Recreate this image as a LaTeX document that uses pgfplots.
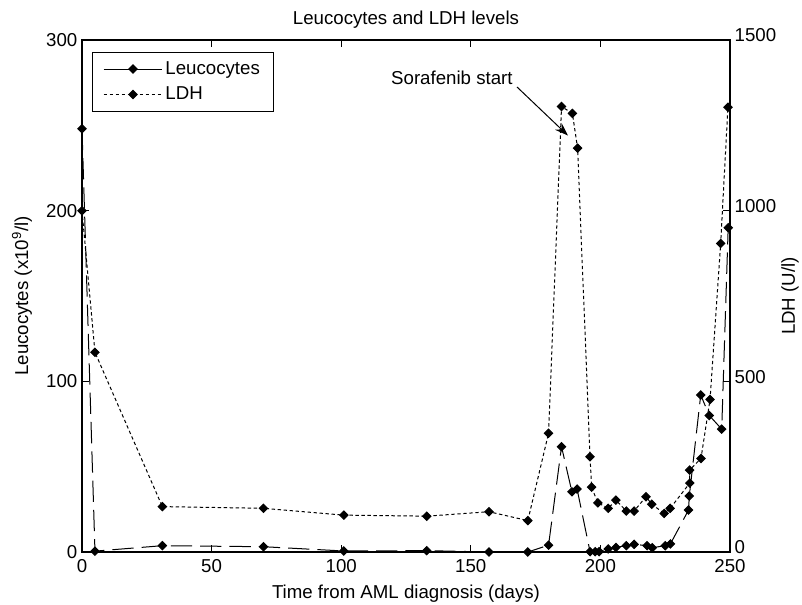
\documentclass[border=0pt]{standalone}
\usepackage{fontspec}
\setmainfont{Liberation Sans}
\usepackage{pgfplots}
\pgfplotsset{compat=1.18}
\usetikzlibrary{arrows.meta}

\pgfplotsset{
  every axis/.append style={
    font=\fontsize{14}{17}\selectfont,
    scale only axis, width=486pt, height=384pt,
    xmin=0, xmax=250,
    tick align=inside,
    major tick length=5pt,
    /pgf/number format/assume math mode=true,
    /pgf/number format/1000 sep={},
    axis line style={line width=0.8pt},
    every tick/.style={black, line width=0.8pt},
  },
  every axis title shift=0pt,
  matlab line/.style={
    legend image code/.code={
      \draw[mark repeat=2,mark phase=2,##1] plot coordinates {(0pt,0pt) (22pt,0pt) (44pt,0pt)};
    },
  },
  dmark/.style={mark=square*, mark size=2.2pt, mark options={solid, rotate=45}},
}

\begin{document}
\begin{tikzpicture}
  % left axis: leucocytes
  \begin{axis}[
    ymin=0, ymax=300, ytick={0,100,200,300},
    xtick={0,50,...,250},
    xtick pos=both, xticklabel pos=lower,
    ytick pos=left, yticklabel pos=left,
    title={Leucocytes and LDH levels},
    title style={at={(axis description cs:0.5,1.039)}, anchor=center},
    xlabel={Time from AML diagnosis (days)},
    xlabel style={at={(axis description cs:0.5,-0.0807)}, anchor=center},
    ylabel={Leucocytes (x10\textsuperscript{9}/l)},
    ylabel style={at={(axis description cs:-0.0926,0.5)}, anchor=center},
    xticklabel style={yshift=-2pt},
    ]
    \addplot[black, line width=0.75pt, dash pattern=on 16pt off 6pt, dmark] coordinates {
      (0,248) (5,0.5) (31,3.7) (70,3.1) (101,0.6) (133,0.8) (157,0)
      (172,0) (180,4) (185,61.7) (189,35.3) (191,36.9) (196,0.2)
      (198,0.2) (199.5,0.2) (203,1.8) (206,2.7) (210,3.7) (213,4.5)
      (218,3.7) (220,2.5) (225,3.7) (227,4.7) (234,24.6) (234.3,32.8)
      (238.7,92) (242,80) (246.8,72) (249.3,190)
    };
    \node at (axis cs:142.7,278) {Sorafenib start};
    \draw[line width=0.75pt, -{Stealth[length=10pt,width=7pt]}]
      (axis cs:167.8,272.5) -- (axis cs:187.5,244);
  \end{axis}

  % right axis: LDH
  \begin{axis}[
    axis x line=none, axis y line*=right,
    ymin=0, ymax=1500, ytick={0,500,1000,1500},
    ylabel={LDH (U/l)},
    ylabel style={at={(axis description cs:1.0926,0.5)}, anchor=center},
    yticklabel style={yshift=3.5pt},
    matlab line,
    legend cell align=left,
    legend style={at={(axis description cs:0.0154,0.977)}, anchor=north west,
      draw=black, fill=white, line width=0.75pt,
      inner xsep=8pt, inner ysep=5pt, row sep=4pt},
    ]
    \addlegendimage{black, solid, line width=0.75pt, dmark}
    \addlegendentry{Leucocytes}
    \addplot[black, line width=0.75pt, dash pattern=on 2.5pt off 2pt, dmark] coordinates {
      (0,1000) (5,585) (31,133) (70,128) (101,108) (133,105) (157,118)
      (172,92) (180,348) (185,1305) (189.2,1285) (191.2,1183) (196,279)
      (196.6,190) (199,144) (203,128) (206,152) (210,120) (213,120)
      (217.6,162) (219.8,140) (224.6,113) (226.9,128) (234.5,202)
      (234.4,240) (238.8,274) (242.3,447) (246.4,904) (249.2,1303)
    };
    \addlegendentry{LDH}
  \end{axis}

  \pgfresetboundingbox
  \path[use as bounding box] (-61.5pt,-39pt) rectangle (540pt,414pt);
\end{tikzpicture}
\end{document}
